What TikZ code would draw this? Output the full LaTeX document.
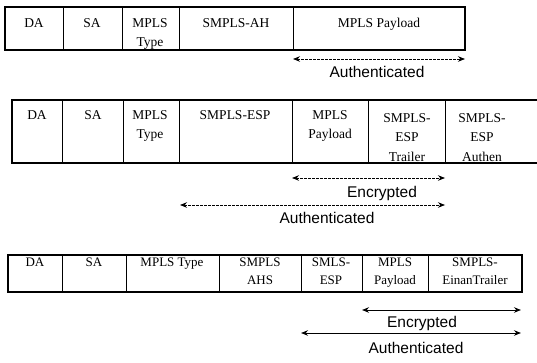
\documentclass[tikz,border=0pt]{standalone}
\usepackage{fontspec}
\setmainfont{Liberation Serif}
\newfontfamily\labelfont{Liberation Sans}
\usetikzlibrary{arrows.meta, positioning, calc}

\begin{document}
\begin{tikzpicture}[x=1pt, y=-1pt,
  frame/.style={line width=1.4pt},
  divider/.style={line width=0.9pt},
  field/.style={anchor=north, inner sep=0pt, align=center,
    font=\fontsize{13.5}{19.5}\selectfont},
  shortfield/.style={field, font=\fontsize{13}{18}\selectfont},
  span/.style={{Stealth[length=7pt,width=5.5pt]}-{Stealth[length=7pt,width=5.5pt]},
    line width=1pt},
  dashspan/.style={span, line width=0.8pt, dash pattern=on 2.5pt off 1.5pt},
  spanlabel/.style={anchor=base, inner sep=0pt,
    font=\labelfont\fontsize{15.5}{18}\selectfont}]

  \useasboundingbox (0,0) rectangle (537,363);

  % ---- SMPLS-AH packet ----
  \draw[frame] (5,7) rectangle (465,50);
  \foreach \x in {63,122,179,293}
    \draw[divider] (\x,7) -- (\x,50);
  \node[field] (ahda)   at (34,18)  {DA};
  \node[field] (ahsa)   at (92,18)  {SA};
  \node[field] (ahtype) at (150,18) {MPLS\\Type};
  \node[field] (ahhdr)  at (236,18) {SMPLS-AH};
  \node[field] (ahpay)  at (379,18) {MPLS Payload};

  % authenticated span
  \coordinate (ahautl) at (293,59);
  \coordinate (ahautr) at (465,59);
  \draw[dashspan] (ahautl) -- (ahautr);
  \node[spanlabel] (ahaut) at (377,78) {Authenticated};

  % ---- SMPLS-ESP packet (right end runs off) ----
  \draw[frame] (537,100) -- (12,100) -- (12,163) -- (537,163);
  \foreach \x in {62,123,179,292,368,445}
    \draw[divider] (\x,100) -- (\x,163);
  \node[field] (espda)   at (37,110)  {DA};
  \node[field] (espsa)   at (93,110)  {SA};
  \node[field] (esptype) at (150,110) {MPLS\\Type};
  \node[field] (esphdr)  at (235,110) {SMPLS-ESP};
  \node[field] (esppay)  at (330,110) {MPLS\\Payload};
  \node[field] (esptrl)  at (407,113) {SMPLS-\\ESP\\Trailer};
  \node[field] (espauth) at (482,113) {SMPLS-\\ESP\\Authen};

  % encrypted and authenticated spans
  \coordinate (espencl) at (292,178);
  \coordinate (espencr) at (445,178);
  \draw[dashspan] (espencl) -- (espencr);
  \node[spanlabel] (espenc) at (382,197) {Encrypted};
  \coordinate (espautl) at (180,205);
  \coordinate (espautr) at (445,205);
  \draw[dashspan] (espautl) -- (espautr);
  \node[spanlabel] (espaut) at (327,223) {Authenticated};

  % ---- nested AHS + ESP packet ----
  \draw[frame] (8,255) rectangle (522,292);
  \foreach \x in {62,126,219,301,362,428}
    \draw[divider] (\x,255) -- (\x,292);
  \node[shortfield] (nsda)   at (35,258)  {DA};
  \node[shortfield] (nssa)   at (94,258)  {SA};
  \node[shortfield] (nstype) at (172,258) {MPLS Type};
  \node[shortfield] (nsahs)  at (260,258) {SMPLS\\AHS};
  \node[shortfield] (nsesp)  at (331,258) {SMLS-\\ESP};
  \node[shortfield] (nspay)  at (395,258) {MPLS\\Payload};
  \node[shortfield] (nstrl)  at (475,258) {SMPLS-\\EinanTrailer};

  % solid spans underneath
  \coordinate (nsencl) at (362,310);
  \coordinate (nsencr) at (521,310);
  \draw[span] (nsencl) -- (nsencr);
  \node[spanlabel] (nsenc) at (422,327) {Encrypted};
  \coordinate (nsautl) at (301,333);
  \coordinate (nsautr) at (521,333);
  \draw[span] (nsautl) -- (nsautr);
  \node[spanlabel] (nsaut) at (416,353) {Authenticated};
\end{tikzpicture}
\end{document}
